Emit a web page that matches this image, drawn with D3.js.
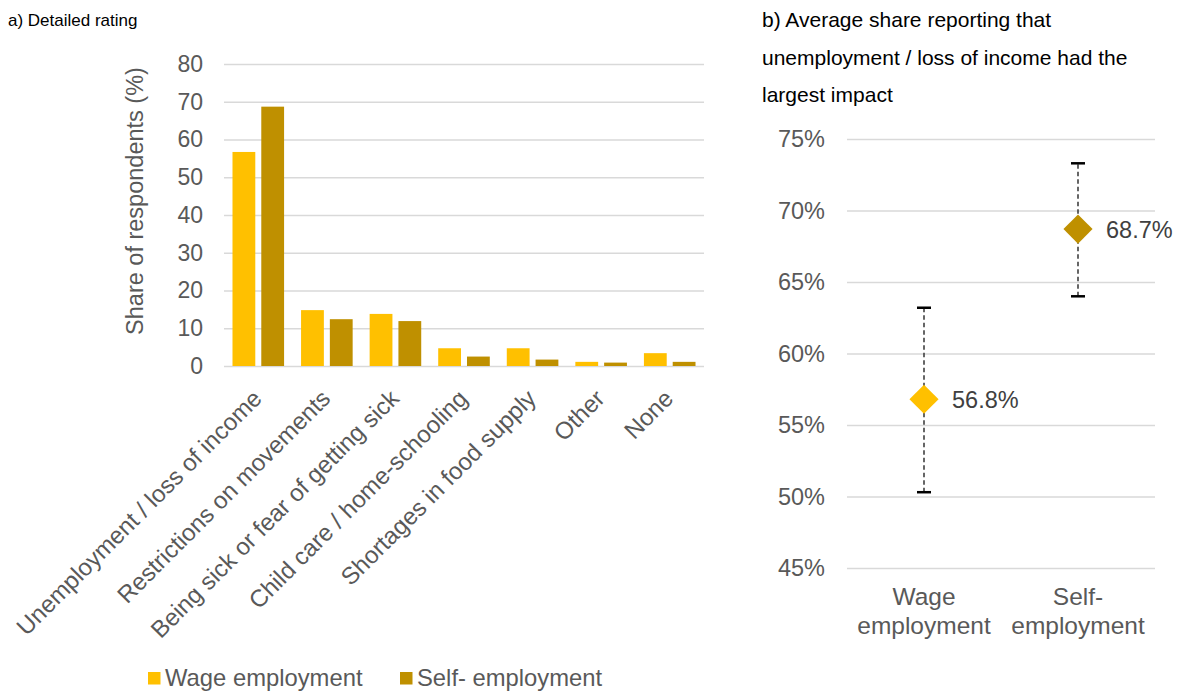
<!DOCTYPE html>
<html>
<head>
<meta charset="utf-8">
<script src="https://cdn.jsdelivr.net/npm/d3@7/dist/d3.min.js"></script>
<style>
  html, body { margin: 0; padding: 0; background: #fff; }
  svg { display: block; }
  text { font-family: "Liberation Sans", Arial, sans-serif; }
</style>
</head>
<body>
<svg id="chart" width="1184" height="693"></svg>
<script>
// ---------- Data ----------
const categories = [
  "Unemployment / loss of income",
  "Restrictions on movements",
  "Being sick or fear of getting sick",
  "Child care / home-schooling",
  "Shortages in food supply",
  "Other",
  "None"
];
const seriesNames = ["Wage employment", "Self- employment"];
const wageValues = [56.7, 14.8, 13.8, 4.7, 4.7, 1.1, 3.4];
const selfValues = [68.7, 12.4, 11.9, 2.5, 1.7, 0.9, 1.1];
const leftTicks = [0, 10, 20, 30, 40, 50, 60, 70, 80];

const panelBGroups = [["Wage", "employment"], ["Self-", "employment"]];
const panelBMeans = [56.8, 68.7];
const panelBLow = [50.3, 64.0];
const panelBHigh = [63.2, 73.3];
const rightTicks = [45, 50, 55, 60, 65, 70, 75];

const colors = ["#FFC000", "#BF9000"];
const textGray = "#595959";
const gridColor = "#D9D9D9";

const svg = d3.select("#chart");

// ---------- Panel a ----------
svg.append("text").attr("x", 8).attr("y", 26)
  .attr("font-size", 17).attr("fill", "#000").text("a) Detailed rating");

const yA = d3.scaleLinear().domain([0, 80]).range([366, 64]);
const xA = d3.scaleBand().domain(categories).range([224, 704]).padding(0);
const xSeries = d3.scaleBand().domain(seriesNames).range([0, xA.bandwidth()])
  .paddingInner(0.208).paddingOuter(0.295);

const gA = svg.append("g");
const yAxisA = d3.axisLeft(yA).tickValues(leftTicks).tickSize(-(704 - 224)).tickPadding(21);
const yAxG = gA.append("g").attr("transform", "translate(224,0)").call(yAxisA);
yAxG.select(".domain").remove();
yAxG.selectAll(".tick line").attr("stroke", gridColor).attr("stroke-width", 1.3);
yAxG.selectAll(".tick text").attr("fill", textGray).attr("font-size", 23)
  .attr("font-family", "Liberation Sans, Arial, sans-serif");

const rows = categories.map((c, i) => ({ c, vals: [wageValues[i], selfValues[i]] }));
const cg = gA.selectAll("g.cat").data(rows).join("g")
  .attr("transform", d => `translate(${xA(d.c)},0)`);
cg.selectAll("rect").data(d => d.vals.map((v, j) => ({ v, s: seriesNames[j], j })))
  .join("rect")
  .attr("x", d => xSeries(d.s))
  .attr("width", xSeries.bandwidth())
  .attr("y", d => yA(d.v))
  .attr("height", d => yA(0) - yA(d.v))
  .attr("fill", d => colors[d.j]);

// x labels (rotated)
gA.selectAll("text.xl").data(categories).join("text")
  .attr("class", "xl")
  .attr("text-anchor", "end")
  .attr("font-size", 24)
  .attr("fill", textGray)
  .attr("transform", d => `translate(${xA(d) + xA.bandwidth() / 2 + 5},400) rotate(-45)`)
  .text(d => d);

// y title
gA.append("text")
  .attr("transform", "translate(143,201) rotate(-90)")
  .attr("text-anchor", "middle")
  .attr("font-size", 23.5)
  .attr("fill", textGray)
  .text("Share of respondents (%)");

// legend
const legendX = [148, 400];
const lg = gA.selectAll("g.leg").data(seriesNames).join("g")
  .attr("transform", (d, i) => `translate(${legendX[i]},672)`);
lg.append("rect").attr("width", 12.5).attr("height", 12.5).attr("fill", (d, i) => colors[i]);
lg.append("text").attr("x", 17).attr("y", 13.5).attr("font-size", 23.8)
  .attr("fill", textGray).text(d => d);

// ---------- Panel b ----------
const titleB = ["b) Average share reporting that", "unemployment / loss of income had the", "largest impact"];
svg.append("g").selectAll("text").data(titleB).join("text")
  .attr("x", 762).attr("y", (d, i) => 27 + i * 37.5)
  .attr("font-size", 21).attr("fill", "#000").text(d => d);

const yB = d3.scaleLinear().domain([45, 75]).range([568, 139]);
const xB = d3.scaleBand().domain([0, 1]).range([847, 1155]);
const gB = svg.append("g");
const yAxisB = d3.axisLeft(yB).tickValues(rightTicks).tickSize(-(1155 - 847))
  .tickPadding(22).tickFormat(d => d + "%");
const yBG = gB.append("g").attr("transform", "translate(847,0)").call(yAxisB);
yBG.select(".domain").remove();
yBG.selectAll(".tick line").attr("stroke", gridColor).attr("stroke-width", 1.3);
yBG.selectAll(".tick text").attr("fill", textGray).attr("font-size", 23.5)
  .attr("font-family", "Liberation Sans, Arial, sans-serif");

const pts = panelBMeans.map((m, i) => ({ i, m, lo: panelBLow[i], hi: panelBHigh[i] }));
const cx = d => xB(d.i) + xB.bandwidth() / 2;
// error bars
gB.selectAll("line.eb").data(pts).join("line").attr("class", "eb")
  .attr("x1", cx).attr("x2", cx)
  .attr("y1", d => yB(d.lo)).attr("y2", d => yB(d.hi))
  .attr("stroke", "#404040").attr("stroke-width", 1.6).attr("stroke-dasharray", "4.5,3");
["lo", "hi"].forEach(k => {
  gB.selectAll("line.cap" + k).data(pts).join("line").attr("class", "cap" + k)
    .attr("x1", d => cx(d) - 7).attr("x2", d => cx(d) + 7)
    .attr("y1", d => yB(d[k])).attr("y2", d => yB(d[k]))
    .attr("stroke", "#000").attr("stroke-width", 2.5);
});
// diamonds
const sym = d3.symbol().type(d3.symbolDiamond2).size(540);
gB.selectAll("path.pt").data(pts).join("path").attr("class", "pt")
  .attr("transform", d => `translate(${cx(d)},${yB(d.m)})`)
  .attr("d", sym)
  .attr("fill", d => colors[d.i]);
// value labels
gB.selectAll("text.vl").data(pts).join("text").attr("class", "vl")
  .attr("x", d => cx(d) + 28).attr("y", d => yB(d.m) + 8.5)
  .attr("font-size", 23.5).attr("fill", "#404040")
  .text(d => d.m.toFixed(1) + "%");
// x labels
const xlB = gB.selectAll("text.xb").data(panelBGroups).join("text").attr("class", "xb")
  .attr("text-anchor", "middle").attr("font-size", 24.5).attr("fill", textGray);
xlB.selectAll("tspan").data((d, i) => d.map(t => ({ t, i }))).join("tspan")
  .attr("x", d => xB(d.i) + xB.bandwidth() / 2)
  .attr("y", (d, k) => 605 + k * 28.5)
  .text(d => d.t);
</script>
</body>
</html>
